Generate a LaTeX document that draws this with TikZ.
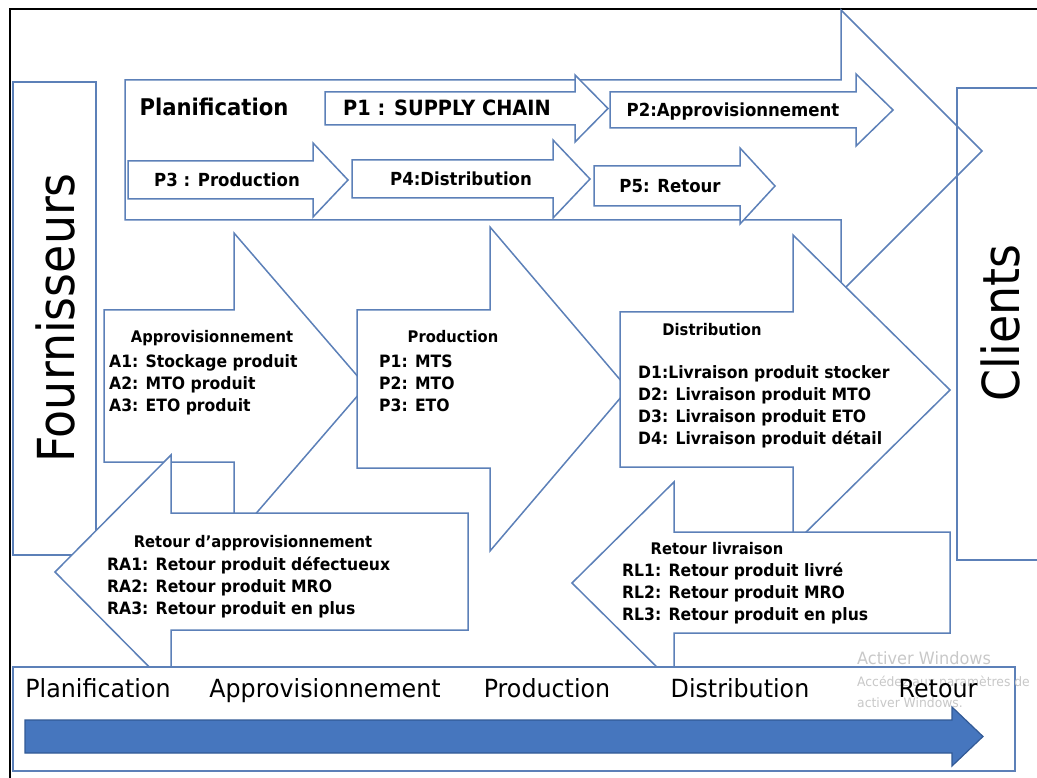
\documentclass[tikz,border=0pt]{standalone}
\usepackage{fontspec}
\setmainfont{DejaVu Sans}
\newfontfamily\labfont[FakeStretch=0.95]{DejaVu Sans}
\newfontfamily\boxfont[FakeStretch=0.92]{DejaVu Sans}
\newfontfamily\sidefont[FakeStretch=0.9]{DejaVu Sans}
\definecolor{flowblue}{RGB}{92,128,184}
\definecolor{barfill}{RGB}{70,118,190}
\definecolor{baredge}{RGB}{50,90,150}
\definecolor{winmark}{RGB}{200,200,200}
\begin{document}
\begin{tikzpicture}[x=1pt,y=-1pt,
  flow/.style={draw=flowblue, fill=white, line width=1.5pt, line join=miter},
  ptext/.style={font=\boxfont\bfseries\fontsize{18}{18}\selectfont, anchor=base, inner sep=0pt},
  title/.style={font=\boxfont\bfseries\fontsize{16}{16}\selectfont, anchor=base, inner sep=0pt},
  item/.style={font=\boxfont\bfseries\fontsize{17}{17}\selectfont, anchor=base west, inner sep=0pt},
  phase/.style={font=\labfont\fontsize{25}{25}\selectfont, anchor=base, inner sep=0pt},
  side/.style={font=\sidefont\fontsize{51}{51}\selectfont, rotate=90, inner sep=0pt},
  wmark/.style={text=winmark, anchor=west, inner sep=0pt}]
\useasboundingbox (0,0) rectangle (1037,778);
\clip (0,0) rectangle (1037,778);

% outer frame
\draw[black, line width=1.6pt] (10,800) -- (10,9) -- (1060,9);

% planning block (large arrow)
\draw[flow] (125,80) -- (841,80) -- (841,10) -- (982,151) -- (841,292) -- (841,220) -- (125,220) -- cycle;
% planning sub-processes
\draw[flow] (325,92) -- (575,92) -- (575,75) -- (608,108.5) -- (575,142) -- (575,125) -- (325,125) -- cycle;
\draw[flow] (610,92) -- (856,92) -- (856,74) -- (893,110) -- (856,146) -- (856,128) -- (610,128) -- cycle;
\draw[flow] (128,161) -- (313,161) -- (313,143) -- (348,180) -- (313,217) -- (313,199) -- (128,199) -- cycle;
\draw[flow] (352,160) -- (553,160) -- (553,140) -- (590,179) -- (553,218) -- (553,198) -- (352,198) -- cycle;
\draw[flow] (594,166) -- (740,166) -- (740,148) -- (775,186) -- (740,224) -- (740,206) -- (594,206) -- cycle;

\node[ptext, font=\boxfont\bfseries\fontsize{23}{23}\selectfont] (plan) at (214,116) {Planification};
\node[ptext, font=\boxfont\bfseries\fontsize{21}{21}\selectfont] (p1) at (447,116) {P1 : SUPPLY CHAIN};
\node[ptext] (p2) at (733,117) {P2:Approvisionnement};
\node[ptext] (p3) at (227,187) {P3 : Production};
\node[ptext] (p4) at (461,186) {P4:Distribution};
\node[ptext] (p5) at (670,193) {P5: Retour};

% suppliers
\draw[flow] (13,82) rectangle (96,555);
\node[side] (fourn) at (55,318) {Fournisseurs};

% forward flow
\draw[flow] (104,310) -- (234,310) -- (234,233) -- (366,386) -- (234,539) -- (234,462) -- (104,462) -- cycle;
\draw[flow] (357,310) -- (490,310) -- (490,227) -- (628,389) -- (490,551) -- (490,468) -- (357,468) -- cycle;
\draw[flow] (620,312) -- (793,312) -- (793,235) -- (950,390) -- (793,545) -- (793,467) -- (620,467) -- cycle;

\node[title] (appT) at (212,342) {Approvisionnement};
\node[item] (a1) at (109,367) {A1: Stockage produit};
\node[item] (a2) at (109,389) {A2: MTO produit};
\node[item] (a3) at (109,411) {A3: ETO produit};

\node[title] (prodT) at (453,342) {Production};
\node[item] (m1) at (379,367) {P1: MTS};
\node[item] (m2) at (379,389) {P2: MTO};
\node[item] (m3) at (379,411) {P3: ETO};

\node[title] (distT) at (712,336) {Distribution};
\node[item] (d1) at (638,378) {D1:Livraison produit stocker};
\node[item] (d2) at (638,400) {D2: Livraison produit MTO};
\node[item] (d3) at (638,422) {D3: Livraison produit ETO};
\node[item] (d4) at (638,444) {D4: Livraison produit détail};

% return flow
\draw[flow] (468,513) -- (171,513) -- (171,455) -- (55,572) -- (171,689) -- (171,630) -- (468,630) -- cycle;
\draw[flow] (950,532) -- (674,532) -- (674,482) -- (572,583) -- (674,684) -- (674,633) -- (950,633) -- cycle;

\node[title] (raT) at (253,547) {Retour d’approvisionnement};
\node[item] (ra1) at (107,570) {RA1: Retour produit défectueux};
\node[item] (ra2) at (107,592) {RA2: Retour produit MRO};
\node[item] (ra3) at (107,614) {RA3: Retour produit en plus};

\node[title] (rlT) at (717,554) {Retour livraison};
\node[item] (rl1) at (622,576) {RL1: Retour produit livré};
\node[item] (rl2) at (622,598) {RL2: Retour produit MRO};
\node[item] (rl3) at (622,620) {RL3: Retour produit en plus};

% process timeline
\draw[flow] (13,667) rectangle (1015,771);
\draw[draw=baredge, fill=barfill, line width=1.2pt, line join=miter]
  (25,720) -- (952,720) -- (952,707) -- (983,736.5) -- (952,766) -- (952,753) -- (25,753) -- cycle;

\node[wmark, font=\labfont\fontsize{17}{17}\selectfont] (wm1) at (857,658) {Activer Windows};
\node[wmark, font=\labfont\fontsize{13}{13}\selectfont] (wm2) at (857,683) {Accédez aux paramètres de};
\node[wmark, font=\labfont\fontsize{13}{13}\selectfont] (wm3) at (857,703) {activer Windows.};

\node[phase] (ph1) at (98,697) {Planification};
\node[phase] (ph2) at (325,697) {Approvisionnement};
\node[phase] (ph3) at (547,697) {Production};
\node[phase] (ph4) at (740,697) {Distribution};
\node[phase] (ph5) at (938,697) {Retour};

% customers
\draw[flow, fill=none] (957,88) rectangle (1080,560);
\node[side] (cli) at (1000,323) {Clients};
\end{tikzpicture}
\end{document}
